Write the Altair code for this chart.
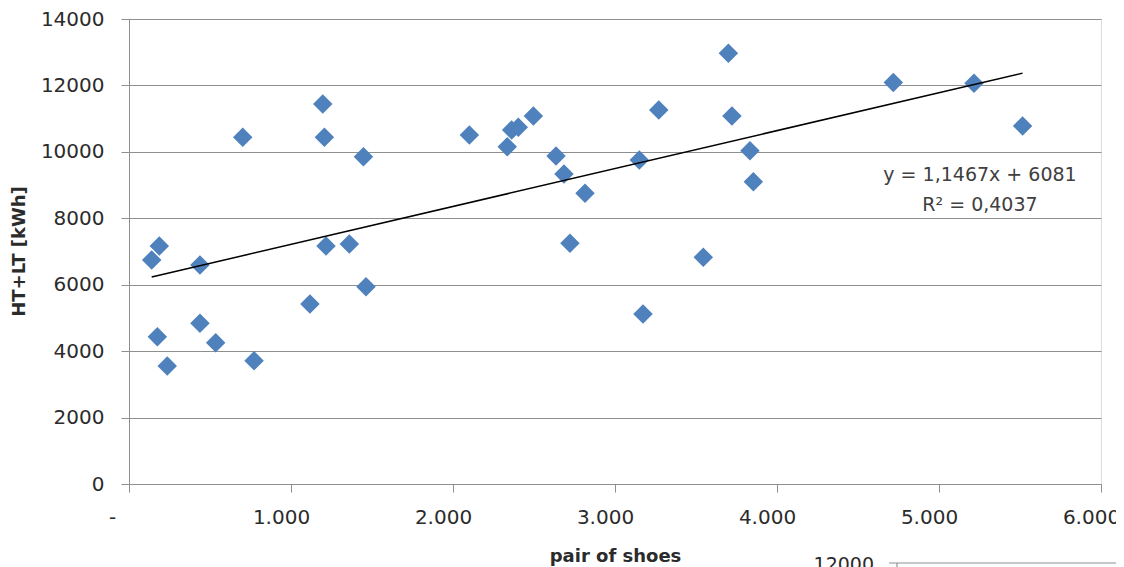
import altair as alt
import pandas as pd

# pair of shoes (x) and HT+LT [kWh] (y)
shoes = [140, 187, 175, 236, 438, 438, 535, 772, 1117, 1216, 1360, 1463,
         702, 1196, 1206, 1447, 2101, 2335, 2362, 2403, 2496, 2636, 2685,
         2815, 2722, 3150, 3270, 3545, 3722, 3833, 3854, 3173, 3700, 4718,
         5216, 5516]
energy = [6745, 7166, 4435, 3553, 6594, 4838, 4255, 3713, 5420, 7166, 7227, 5941,
          10440, 11442, 10440, 9855, 10509, 10157, 10659, 10740, 11081, 9877, 9334,
          8753, 7248, 9756, 11262, 6826, 11081, 10036, 9103, 5119, 12968, 12087,
          12066, 10780]

eq_labels = ["y = 1,1467x + 6081", "R\u00b2 = 0,4037"]
eq_x = [5253, 5253]
eq_y = [9304, 8401]

df = pd.DataFrame({"x": shoes, "y": energy})
eq_df = pd.DataFrame({"x": eq_x, "y": eq_y, "t": eq_labels})

FONT = "DejaVu Sans"
TXT = "#2b2b2b"
GRID = "#8f8f8f"

xscale = alt.Scale(domain=[0, 6000], nice=False, zero=True)
yscale = alt.Scale(domain=[0, 14000], nice=False)

xaxis = alt.Axis(
    values=[0, 1000, 2000, 3000, 4000, 5000, 6000],
    labelExpr="datum.value == 0 ? '-' : format(datum.value/1000, '.3f')",
    grid=False, tickSize=8, tickColor=GRID, domainColor=GRID,
    labelFont=FONT, labelFontSize=20, labelColor=TXT, labelPadding=15,
    labelOffset={"condition": {"test": "datum.value === 0", "value": -17}, "value": -10},
    labelFlush=False,
    title="pair of shoes", titleFont=FONT, titleFontSize=18, titleFontWeight="bold",
    titleColor=TXT, titleY=77, titleBaseline="alphabetic",
)
yaxis = alt.Axis(
    values=list(range(0, 14001, 2000)), format="d",
    grid=True, gridColor=GRID, gridWidth=1.2,
    tickSize=8, tickColor=GRID, domainColor=GRID,
    labelFont=FONT, labelFontSize=20, labelColor=TXT, labelPadding=17,
    title="HT+LT [kWh]", titleFont=FONT, titleFontSize=18, titleFontWeight="bold",
    titleColor=TXT, titleX=-110, titleY=232, titleBaseline="middle", titleAlign="center",
)

base = alt.Chart(df)

points = base.mark_point(shape="diamond", filled=True, opacity=1,
                         color="#4F81BD", size=380).encode(
    x=alt.X("x:Q", scale=xscale, axis=xaxis),
    y=alt.Y("y:Q", scale=yscale, axis=yaxis),
)

trend = base.transform_regression("x", "y").mark_line(
    color="black", strokeWidth=1.5).encode(
    x=alt.X("x:Q", scale=xscale),
    y=alt.Y("y:Q", scale=yscale),
)

eq = alt.Chart(eq_df).mark_text(font=FONT, fontSize=19, color="#404040",
                                align="center", baseline="middle").encode(
    x=alt.X("x:Q", scale=xscale),
    y=alt.Y("y:Q", scale=yscale),
    text="t:N",
)

# fragment of a neighbouring chart visible at the bottom-right edge
frag_text = alt.Chart(pd.DataFrame({"t": ["12000"]})).mark_text(
    font=FONT, fontSize=19, color=TXT, align="right", baseline="top").encode(
    x=alt.value(745), y=alt.value(537), text="t:N")
frag_line = alt.Chart(pd.DataFrame({"a": [0]})).mark_rule(
    color=GRID, strokeWidth=1.2).encode(
    x=alt.value(760), x2=alt.value(1000), y=alt.value(544))
frag_tick = alt.Chart(pd.DataFrame({"a": [0]})).mark_rule(
    color=GRID, strokeWidth=1.2).encode(
    x=alt.value(768), y=alt.value(544), y2=alt.value(552))

chart = alt.layer(points, trend, eq, frag_text, frag_line, frag_tick).properties(
    width=972, height=465,
    autosize=alt.AutoSizeParams(type="none"),
    padding={"left": 121, "top": 11, "right": 15, "bottom": 85},
).configure_view(stroke=None).configure(background="white")

chart.save("out.html", embed_options={"renderer": "svg", "actions": False})
